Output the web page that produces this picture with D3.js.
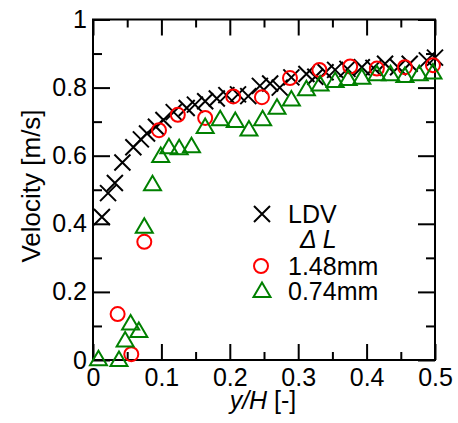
<!DOCTYPE html>
<html>
<head>
<meta charset="utf-8">
<script src="https://cdn.jsdelivr.net/npm/d3@7"></script>
<style>
  body { margin: 0; background: #fff; }
  text { font-family: "Liberation Sans", Arial, sans-serif; }
</style>
</head>
<body>
<div id="chart"></div>
<script>
// LDV measurement [y/H, velocity]
var ldv = [[0.013,0.42],[0.022,0.49],[0.032,0.52],[0.043,0.58],[0.059,0.625],[0.070,0.648],
  [0.079,0.665],[0.092,0.685],[0.103,0.705],[0.118,0.728],[0.137,0.74],[0.149,0.75],
  [0.164,0.76],[0.181,0.768],[0.195,0.778],[0.212,0.78],[0.227,0.775],[0.244,0.805],
  [0.259,0.812],[0.273,0.80],[0.29,0.83],[0.312,0.84],[0.325,0.832],[0.34,0.845],
  [0.354,0.852],[0.372,0.855],[0.393,0.86],[0.41,0.858],[0.427,0.87],[0.446,0.86],
  [0.463,0.87],[0.488,0.88],[0.5,0.888]];
// delta L = 1.48mm
var dl148 = [[0.036,0.135],[0.056,0.017],[0.075,0.347],[0.0965,0.675],[0.124,0.72],
  [0.164,0.711],[0.205,0.774],[0.247,0.772],[0.288,0.828],[0.331,0.852],[0.376,0.862],
  [0.415,0.856],[0.456,0.86],[0.497,0.866]];
// delta L = 0.74mm
var dl074 = [[0.008,0.005],[0.038,0.003],[0.047,0.06],[0.055,0.11],[0.067,0.088],
  [0.075,0.394],[0.087,0.519],[0.099,0.602],[0.111,0.628],[0.126,0.625],[0.144,0.631],
  [0.164,0.687],[0.186,0.71],[0.208,0.705],[0.228,0.68],[0.248,0.71],[0.269,0.744],
  [0.29,0.768],[0.312,0.798],[0.332,0.812],[0.354,0.822],[0.373,0.828],[0.393,0.832],
  [0.415,0.842],[0.435,0.842],[0.456,0.837],[0.477,0.842],[0.497,0.847]];

var xMajor = [0, 0.1, 0.2, 0.3, 0.4, 0.5];
var xMinor = [0.05, 0.15, 0.25, 0.35, 0.45];
var yMajor = [0, 0.2, 0.4, 0.6, 0.8, 1];
var yMinor = [0.1, 0.3, 0.5, 0.7, 0.9];
var legendLabels = ["LDV", "\u0394 L", "1.48mm", "0.74mm"];

var w = 458, h = 423;
var fs = 25;

var svg = d3.select('#chart').append('svg')
  .attr('width', w).attr('height', h);

var x = d3.scaleLinear().domain([0, 0.5]).range([93, 435]);
var y = d3.scaleLinear().domain([0, 1]).range([360, 19.5]);

var fmt = function(d) { return d === 0 ? '0' : d === 1 ? '1' : d3.format('.1f')(d); };

function styleAxis(g) {
  g.select('.domain').remove();
  g.selectAll('line').attr('stroke', '#000').attr('stroke-width', 2);
  g.selectAll('text').attr('font-size', fs).attr('fill', '#000')
    .attr('font-family', '"Liberation Sans", Arial, sans-serif');
}

// bottom axis
svg.append('g').attr('transform', 'translate(0,' + y(0) + ')')
  .call(d3.axisBottom(x).tickValues(xMajor).tickFormat(fmt).tickSize(-16).tickPadding(8))
  .call(styleAxis);
svg.append('g').attr('transform', 'translate(0,' + y(0) + ')')
  .call(d3.axisBottom(x).tickValues(xMinor).tickFormat('').tickSize(-8))
  .call(styleAxis);
// top axis
svg.append('g').attr('transform', 'translate(0,' + y(1) + ')')
  .call(d3.axisTop(x).tickValues(xMajor).tickFormat('').tickSize(-16))
  .call(styleAxis);
svg.append('g').attr('transform', 'translate(0,' + y(1) + ')')
  .call(d3.axisTop(x).tickValues(xMinor).tickFormat('').tickSize(-8))
  .call(styleAxis);
// left axis
svg.append('g').attr('transform', 'translate(' + x(0) + ',0)')
  .call(d3.axisLeft(y).tickValues(yMajor).tickFormat(fmt).tickSize(-17).tickPadding(6))
  .call(styleAxis);
svg.append('g').attr('transform', 'translate(' + x(0) + ',0)')
  .call(d3.axisLeft(y).tickValues(yMinor).tickFormat('').tickSize(-9))
  .call(styleAxis);
// right axis
svg.append('g').attr('transform', 'translate(' + x(0.5) + ',0)')
  .call(d3.axisRight(y).tickValues(yMajor).tickFormat('').tickSize(-17))
  .call(styleAxis);
svg.append('g').attr('transform', 'translate(' + x(0.5) + ',0)')
  .call(d3.axisRight(y).tickValues(yMinor).tickFormat('').tickSize(-9))
  .call(styleAxis);

// frame
svg.append('rect')
  .attr('x', x(0)).attr('y', y(1))
  .attr('width', x(0.5) - x(0)).attr('height', y(0) - y(1))
  .attr('fill', 'none').attr('stroke', '#000').attr('stroke-width', 2);

// markers
var crossPath = 'M-8,-8L8,8M-8,8L8,-8';
var triPath = 'M0,-7.5L8.5,7L-8.5,7Z';

function drawCross(sel) {
  sel.append('path').attr('d', crossPath)
    .attr('stroke', '#000').attr('stroke-width', 2).attr('fill', 'none');
}
function drawCircle(sel) {
  sel.append('circle').attr('r', 7)
    .attr('stroke', '#ff0000').attr('stroke-width', 2).attr('fill', 'none');
}
function drawTri(sel) {
  sel.append('path').attr('d', triPath)
    .attr('stroke', '#008000').attr('stroke-width', 2).attr('fill', 'none');
}

function series(data, draw) {
  var g = svg.append('g').selectAll('g')
    .data(data).enter().append('g')
    .attr('transform', function(d) { return 'translate(' + x(d[0]) + ',' + y(d[1]) + ')'; });
  draw(g);
}
series(ldv, drawCross);
series(dl148, drawCircle);
series(dl074, drawTri);

// legend
var lg = svg.append('g');
drawCross(lg.append('g').attr('transform', 'translate(262,214)'));
lg.append('text').attr('x', 288).attr('y', 223).attr('font-size', fs).text(legendLabels[0]);
lg.append('text').attr('x', 300).attr('y', 248).attr('font-size', fs)
  .attr('font-style', 'italic').text(legendLabels[1]);
drawCircle(lg.append('g').attr('transform', 'translate(261,266)'));
lg.append('text').attr('x', 288).attr('y', 275).attr('font-size', fs).text(legendLabels[2]);
drawTri(lg.append('g').attr('transform', 'translate(262,290)'));
lg.append('text').attr('x', 288).attr('y', 300).attr('font-size', fs).text(legendLabels[3]);

// axis titles
var xt = svg.append('text').attr('x', 263).attr('y', 409)
  .attr('text-anchor', 'middle').attr('font-size', fs);
xt.append('tspan').attr('font-style', 'italic').text('y/H');
xt.append('tspan').text(' [-]');

svg.append('text')
  .attr('transform', 'translate(40,' + 186 + ') rotate(-90)')
  .attr('text-anchor', 'middle').attr('font-size', 26)
  .text('Velocity [m/s]');
</script>
</body>
</html>
